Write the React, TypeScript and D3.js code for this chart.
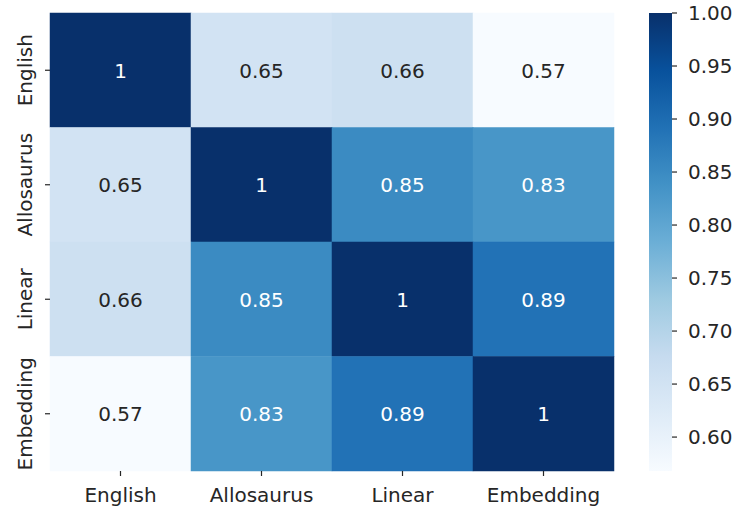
import React from "react";
import * as d3 from "d3";

// Pairwise similarity between representations
const labels = ["English", "Allosaurus", "Linear", "Embedding"];
const rowEnglish = [1.0, 0.65, 0.66, 0.568];
const rowAllosaurus = [0.65, 1.0, 0.85, 0.83];
const rowLinear = [0.66, 0.85, 1.0, 0.89];
const rowEmbedding = [0.568, 0.83, 0.89, 1.0];
const matrix = [rowEnglish, rowAllosaurus, rowLinear, rowEmbedding];
const colorbarTicks = [0.6, 0.65, 0.7, 0.75, 0.8, 0.85, 0.9, 0.95, 1.0];

// ColorBrewer "Blues" 9-class ramp, interpolated linearly in RGB
const bluesStops = [
  "#f7fbff", "#deebf7", "#c6dbef", "#9ecae1", "#6baed6",
  "#4292c6", "#2171b5", "#08519c", "#08306b",
];

const W = 736;
const H = 510;
const FONT = "DejaVu Sans, Liberation Sans, sans-serif";
const FS = 20;
const INK = "#262626";

export default function App() {
  const vmin = d3.min(matrix.flat()) as number;
  const vmax = d3.max(matrix.flat()) as number;

  const left = 50, right = 614, top = 13, bottom = 471;
  const x = d3.scaleBand<string>().domain(labels).range([left, right]);
  const y = d3.scaleBand<string>().domain(labels).range([top, bottom]);

  const ramp = d3
    .scaleLinear<string>()
    .domain(bluesStops.map((_, i) => i / (bluesStops.length - 1)))
    .range(bluesStops)
    .interpolate(d3.interpolateRgb);
  const norm = d3.scaleLinear().domain([vmin, vmax]).range([0, 1]).clamp(true);
  const color = (v: number) => ramp(norm(v));

  const textColor = (bg: string) => {
    const c = d3.rgb(bg);
    const lin = (u: number) => {
      const s = u / 255;
      return s <= 0.03928 ? s / 12.92 : Math.pow((s + 0.055) / 1.055, 2.4);
    };
    const lum = 0.2126 * lin(c.r) + 0.7152 * lin(c.g) + 0.0722 * lin(c.b);
    return lum < 0.408 ? "#ffffff" : INK;
  };

  const fmt = d3.format(".2~g");
  const half = FS * 0.729 / 2; // half the digit height, for vertical centring

  const cbX = 649, cbW = 23;
  const cbY = d3.scaleLinear().domain([vmin, vmax]).range([bottom, top]);

  return (
    <svg width={W} height={H} style={{ position: "absolute", left: 0, top: 0 }}>
      <defs>
        <linearGradient id="cbGrad" x1="0" y1="1" x2="0" y2="0">
          {bluesStops.map((c, i) => (
            <stop key={i} offset={i / (bluesStops.length - 1)} stopColor={c} />
          ))}
        </linearGradient>
      </defs>
      <rect width={W} height={H} fill="#ffffff" />

      {matrix.map((row, ri) =>
        row.map((v, ci) => {
          const bg = color(v);
          const cx = x(labels[ci]) as number;
          const cy = y(labels[ri]) as number;
          return (
            <g key={`${ri}-${ci}`}>
              <rect
                x={cx}
                y={cy}
                width={x.bandwidth()}
                height={y.bandwidth()}
                fill={bg}
                stroke={bg}
                strokeWidth={0.5}
              />
              <text
                x={cx + x.bandwidth() / 2}
                y={cy + y.bandwidth() / 2 + half}
                textAnchor="middle"
                fontFamily={FONT}
                fontSize={FS}
                fill={textColor(bg)}
              >
                {fmt(v)}
              </text>
            </g>
          );
        })
      )}

      {/* x axis */}
      {labels.map((l) => {
        const cx = (x(l) as number) + x.bandwidth() / 2;
        return (
          <g key={`x-${l}`}>
            <line x1={cx} x2={cx} y1={bottom} y2={bottom + 5} stroke={INK} strokeWidth={1.2} />
            <text
              x={cx}
              y={502}
              textAnchor="middle"
              fontFamily={FONT}
              fontSize={FS}
              fill={INK}
            >
              {l}
            </text>
          </g>
        );
      })}

      {/* y axis */}
      {labels.map((l) => {
        const cy = (y(l) as number) + y.bandwidth() / 2;
        return (
          <g key={`y-${l}`}>
            <line x1={left - 5} x2={left} y1={cy} y2={cy} stroke={INK} strokeWidth={1.2} />
            <text
              transform={`translate(32,${cy}) rotate(-90)`}
              textAnchor="middle"
              fontFamily={FONT}
              fontSize={FS}
              fill={INK}
            >
              {l}
            </text>
          </g>
        );
      })}

      {/* colorbar */}
      <rect x={cbX} y={top} width={cbW} height={bottom - top} fill="url(#cbGrad)" />
      {colorbarTicks.map((t) => (
        <g key={`cb-${t}`}>
          <line
            x1={cbX + cbW}
            x2={cbX + cbW + 5}
            y1={cbY(t)}
            y2={cbY(t)}
            stroke={INK}
            strokeWidth={1.2}
          />
          <text
            x={688}
            y={cbY(t) + half}
            fontFamily={FONT}
            fontSize={FS}
            fill={INK}
          >
            {d3.format(".2f")(t)}
          </text>
        </g>
      ))}
    </svg>
  );
}
